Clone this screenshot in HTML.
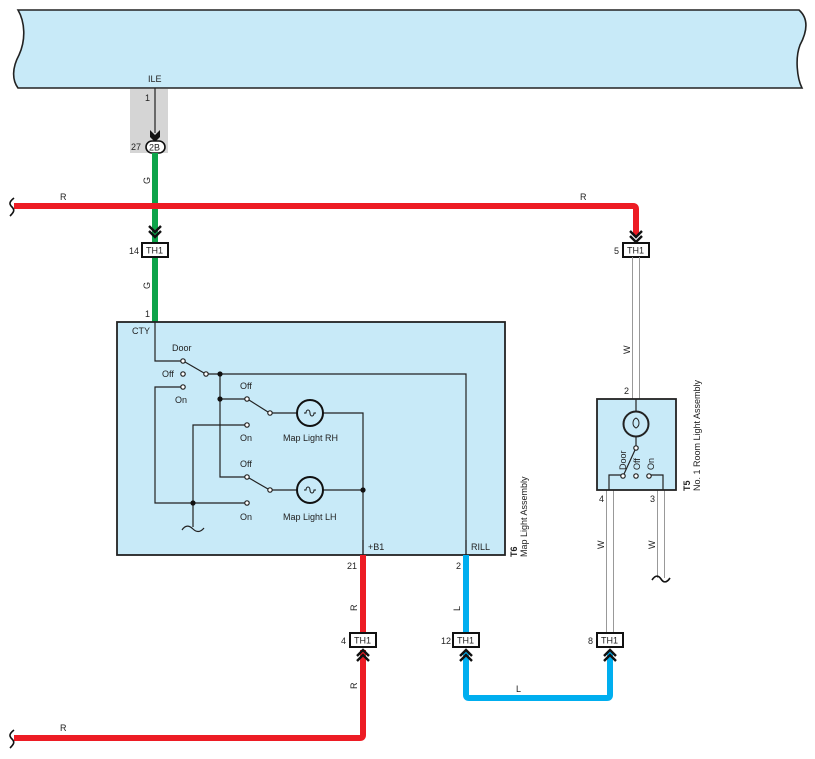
<!DOCTYPE html>
<html><head><meta charset="utf-8"><style>
html,body{margin:0;padding:0;background:#fff;}
svg{display:block;}
text{font-family:"Liberation Sans",sans-serif;font-size:9px;fill:#222;}
</style></head><body>
<svg width="815" height="759" viewBox="0 0 815 759" xmlns="http://www.w3.org/2000/svg">
<defs>
<g id="chev"><path d="M-6,-6 L0,0 L6,-6 M-6,-1 L0,5 L6,-1" fill="none" stroke="#111" stroke-width="2.4"/></g>
</defs>
<!-- top box -->
<path d="M18,10 L799,10 C808,18 808,30 800,45 C795,58 797,78 802,88 L18,88 C12,80 12,68 19,55 C26,40 25,22 18,10 Z" fill="#c8eaf8" stroke="#222" stroke-width="1.6"/>
<text x="148" y="82">ILE</text>
<!-- gray connector -->
<rect x="130" y="89" width="38" height="64" fill="#d5d5d5"/>
<line x1="155" y1="88" x2="155" y2="133" stroke="#222" stroke-width="1.2"/>
<path d="M150,130 L155,135 L160,130 L160,137 L155,142 L150,137 Z" fill="#111"/>
<text x="145" y="101">1</text>
<text x="131" y="150">27</text>
<rect x="146" y="141" width="19" height="12" rx="6" fill="#fff" stroke="#111" stroke-width="1.6"/>
<text x="149" y="150.5">2B</text>
<!-- green -->
<line x1="155" y1="153" x2="155" y2="243" stroke="#0da44a" stroke-width="6"/>
<line x1="155" y1="257" x2="155" y2="322" stroke="#0da44a" stroke-width="6"/>
<text transform="translate(150,184) rotate(-90)">G</text>
<text transform="translate(150,289) rotate(-90)">G</text>
<!-- red top -->
<path d="M14,206 L633,206 Q636,206 636,209 L636,236" fill="none" stroke="#ed1c24" stroke-width="6"/>
<path d="M14,198 C9,202 9,204 12,207 C15,210 14,212 10,216" fill="none" stroke="#111" stroke-width="1.6"/>
<text x="60" y="200">R</text>
<text x="580" y="200">R</text>
<use href="#chev" x="155" y="232"/>
<use href="#chev" x="636" y="237"/>
<rect x="142" y="243" width="26" height="14" fill="#fff" stroke="#111" stroke-width="2"/>
<text x="146" y="253.5">TH1</text>
<text x="129" y="254">14</text>
<rect x="623" y="243" width="26" height="14" fill="#fff" stroke="#111" stroke-width="2"/>
<text x="627" y="253.5">TH1</text>
<text x="614" y="254">5</text>
<!-- W double wires -->
<g stroke="#999" stroke-width="1">
<line x1="632.5" y1="257" x2="632.5" y2="399"/><line x1="639.5" y1="257" x2="639.5" y2="399"/>
<line x1="606.5" y1="490" x2="606.5" y2="633"/><line x1="613.5" y1="490" x2="613.5" y2="633"/>
<line x1="657.5" y1="490" x2="657.5" y2="578"/><line x1="664.5" y1="490" x2="664.5" y2="578"/>
</g>
<path d="M652,580 C656,574 659,576 661,579 C663,582 666,584 670,578" fill="none" stroke="#111" stroke-width="1.6"/>
<text transform="translate(630,354) rotate(-90)">W</text>
<text x="624" y="394">2</text>
<text x="599" y="502">4</text>
<text x="650" y="502">3</text>
<text transform="translate(604,549) rotate(-90)">W</text>
<text transform="translate(655,549) rotate(-90)">W</text>
<!-- T5 box -->
<rect x="597" y="399" width="79" height="91" fill="#c8eaf8" stroke="#222" stroke-width="1.8"/>
<g stroke="#222" stroke-width="1.2" fill="none">
<line x1="636" y1="399" x2="636" y2="412"/>
<circle cx="636" cy="424" r="12.5" stroke-width="2"/>
<path d="M636,418 C632,420 632,426 636,428 C640,426 640,420 636,418" stroke-width="1"/>
<line x1="636" y1="436" x2="636" y2="446"/>
<line x1="635" y1="450" x2="624" y2="474"/>
<path d="M622,475 L609,475 L609,490"/>
<path d="M651,475 L663,475 L663,490"/>
</g>
<g fill="#fff" stroke="#222" stroke-width="1.2">
<circle cx="636" cy="448" r="2.2"/><circle cx="623" cy="476" r="2.2"/><circle cx="636" cy="476" r="2.2"/><circle cx="649" cy="476" r="2.2"/>
</g>
<text transform="translate(626,470) rotate(-90)">Door</text>
<text transform="translate(640,470) rotate(-90)">Off</text>
<text transform="translate(654,470) rotate(-90)">On</text>
<text transform="translate(690,491) rotate(-90)" style="font-weight:bold">T5</text>
<text transform="translate(700,491) rotate(-90)">No.  1 Room Light Assembly</text>
<!-- Map light box -->
<rect x="117" y="322" width="388" height="233" fill="#c8eaf8" stroke="#222" stroke-width="1.8"/>
<text x="132" y="334">CTY</text>
<text x="145" y="317">1</text>
<g stroke="#222" stroke-width="1.2" fill="none">
<path d="M155,322 L155,361 L181,361"/>
<line x1="185" y1="362" x2="204" y2="373"/>
<path d="M208,374 L466,374 L466,555"/>
<path d="M181,387 L155,387 L155,503 L245,503"/>
<path d="M220,374 L220,477 L245,477"/>
<line x1="220" y1="399" x2="245" y2="399"/>
<line x1="249" y1="400" x2="268" y2="412"/>
<line x1="272" y1="413" x2="297" y2="413"/>
<path d="M323,413 L363,413 L363,555"/>
<path d="M245,425 L193,425 L193,527"/>
<line x1="249" y1="478" x2="268" y2="489"/>
<line x1="272" y1="490" x2="297" y2="490"/>
<line x1="323" y1="490" x2="363" y2="490"/>
<path d="M182,530 C186,524 190,526 193,529 C196,532 200,533 204,528"/>
<line x1="363" y1="540" x2="363" y2="555"/>
<line x1="466" y1="540" x2="466" y2="555"/>
</g>
<g fill="#fff" stroke="#222" stroke-width="1.2">
<circle cx="183" cy="361" r="2.2"/><circle cx="206" cy="374" r="2.2"/><circle cx="183" cy="374" r="2.2"/><circle cx="183" cy="387" r="2.2"/>
<circle cx="247" cy="399" r="2.2"/><circle cx="270" cy="413" r="2.2"/><circle cx="247" cy="425" r="2.2"/>
<circle cx="247" cy="477" r="2.2"/><circle cx="270" cy="490" r="2.2"/><circle cx="247" cy="503" r="2.2"/>
</g>
<g fill="#111"><circle cx="220" cy="374" r="2.6"/><circle cx="220" cy="399" r="2.6"/><circle cx="193" cy="503" r="2.6"/><circle cx="363" cy="490" r="2.6"/></g>
<g fill="none" stroke="#111" stroke-width="2">
<circle cx="310" cy="413" r="13"/><circle cx="310" cy="490" r="13"/>
</g>
<g fill="none" stroke="#111" stroke-width="1">
<path d="M304,413 L306,413 C306,409 310,409 310,413 C310,417 314,417 314,413 L316,413"/>
<path d="M304,490 L306,490 C306,486 310,486 310,490 C310,494 314,494 314,490 L316,490"/>
</g>
<text x="172" y="351">Door</text>
<text x="162" y="377">Off</text>
<text x="175" y="403">On</text>
<text x="240" y="389">Off</text>
<text x="240" y="441">On</text>
<text x="283" y="441">Map Light RH</text>
<text x="240" y="467">Off</text>
<text x="240" y="520">On</text>
<text x="283" y="520">Map Light LH</text>
<text x="368" y="550">+B1</text>
<text x="471" y="550">RILL</text>
<text transform="translate(517,557) rotate(-90)" style="font-weight:bold">T6</text>
<text transform="translate(527,557) rotate(-90)">Map Light Assembly</text>
<text x="347" y="569">21</text>
<text x="456" y="569">2</text>
<!-- red bottom -->
<line x1="363" y1="555" x2="363" y2="633" stroke="#ed1c24" stroke-width="6"/>
<path d="M363,650 L363,735 Q363,738 360,738 L14,738" fill="none" stroke="#ed1c24" stroke-width="6"/>
<path d="M14,730 C9,734 9,736 12,739 C15,742 14,744 10,748" fill="none" stroke="#111" stroke-width="1.6"/>
<text transform="translate(357,611) rotate(-90)">R</text>
<text transform="translate(357,689) rotate(-90)">R</text>
<text x="60" y="731">R</text>
<!-- blue -->
<line x1="466" y1="555" x2="466" y2="633" stroke="#00aeef" stroke-width="6"/>
<path d="M466,652 L466,695 Q466,698 469,698 L607,698 Q610,698 610,695 L610,652" fill="none" stroke="#00aeef" stroke-width="6"/>
<text transform="translate(460,611) rotate(-90)">L</text>
<text x="516" y="692">L</text>
<!-- bottom connectors -->
<rect x="350" y="633" width="26" height="14" fill="#fff" stroke="#111" stroke-width="2"/>
<text x="354" y="643.5">TH1</text>
<text x="341" y="644">4</text>
<rect x="453" y="633" width="26" height="14" fill="#fff" stroke="#111" stroke-width="2"/>
<text x="457" y="643.5">TH1</text>
<text x="441" y="644">12</text>
<rect x="597" y="633" width="26" height="14" fill="#fff" stroke="#111" stroke-width="2"/>
<text x="601" y="643.5">TH1</text>
<text x="588" y="644">8</text>
<g fill="none" stroke="#111" stroke-width="2.4">
<path d="M357,656 L363,650 L369,656 M357,661 L363,655 L369,661"/>
<path d="M460,656 L466,650 L472,656 M460,661 L466,655 L472,661"/>
<path d="M604,656 L610,650 L616,656 M604,661 L610,655 L616,661"/>
</g>
</svg>
</body></html>
